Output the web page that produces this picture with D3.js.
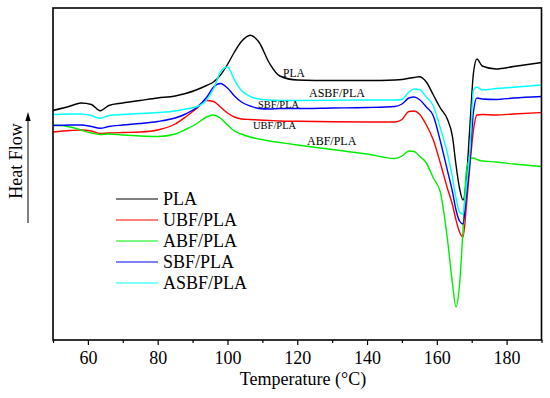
<!DOCTYPE html>
<html>
<head>
<meta charset="utf-8">
<script src="https://cdn.jsdelivr.net/npm/d3@7"></script>
<style>
  body { margin: 0; background: #fff; }
  svg { font-family: "Liberation Serif", "Times New Roman", serif; }
</style>
</head>
<body>
<div id="chart"></div>
<script>
// temperature grid (°C) shared by all curves
var temps = [50, 55, 58, 61, 63.5, 66, 70, 75, 80, 85, 88, 91, 94, 96, 98, 100, 102, 104, 106.5, 109,
  112, 115, 120, 130, 140, 148, 150, 152, 153.5, 155, 157, 159, 161, 163, 164.5, 165.5, 166.5, 167.5, 168.5, 169.5,
  170.5, 171.5, 173, 177, 182, 190];

// heat flow, arbitrary units (endo down)
var pla = [22.95, 23.4, 23.7, 23.55, 22.93, 23.45, 23.7, 23.95, 24.2, 24.4, 24.65, 25.0, 25.45, 25.8, 26.5, 27.55, 28.8, 29.85, 30.48, 29.8,
  27.7, 26.4, 26.0, 25.95, 25.95, 26.0, 26.05, 26.17, 26.25, 26.33, 25.8, 24.5, 23.2, 22.1, 20.3, 17.5, 15.2, 14.0, 16.2, 21.5,
  26.7, 28.1, 27.4, 27.1, 27.35, 27.75];
var ubf = [20.8, 20.95, 21.0, 20.9, 20.65, 20.7, 20.75, 20.8, 21.0, 21.6, 22.3, 23.1, 23.95, 23.85, 23.3, 22.7, 22.3, 22.1, 22.05, 22.0,
  21.95, 21.9, 21.87, 21.82, 21.8, 21.8, 22.05, 22.85, 22.9, 22.6, 21.5, 20.0, 17.7, 15.2, 13.5, 12.0, 10.8, 10.3, 13.5, 17.5,
  21.0, 22.5, 22.55, 22.5, 22.6, 22.75];
var abf = [21.5, 21.3, 21.0, 20.7, 20.55, 20.6, 20.5, 20.4, 20.35, 20.6, 21.05, 21.6, 22.3, 22.5, 22.17, 21.5, 20.9, 20.6, 20.3, 20.1,
  19.9, 19.75, 19.5, 19.05, 18.6, 18.15, 18.4, 18.9, 18.85, 18.4, 17.7, 16.2, 14.8, 10.2, 5.6, 3.3, 5.5, 11.0, 17.0, 18.1,
  18.2, 18.05, 17.9, 17.8, 17.6, 17.35];
var sbf = [21.45, 21.5, 21.5, 21.35, 21.17, 21.35, 21.5, 21.65, 21.85, 22.2, 22.6, 23.2, 24.25, 25.3, 25.65, 25.2, 24.4, 23.8, 23.4, 23.15,
  23.1, 23.15, 23.15, 23.2, 23.25, 23.35, 23.6, 24.2, 24.3, 24.05, 23.3, 22.4, 19.9, 17.0, 14.8, 13.0, 11.9, 11.6, 14.5, 18.0,
  22.8, 24.2, 24.1, 24.05, 24.2, 24.35];
var asbf = [22.55, 22.6, 22.6, 22.45, 22.17, 22.45, 22.55, 22.65, 22.75, 22.9, 23.1, 23.3, 24.0, 25.1, 26.8, 27.3, 26.0, 24.95, 24.35, 24.1,
  24.0, 23.95, 23.95, 23.97, 24.0, 24.0, 24.05, 24.8, 25.1, 25.05, 24.3, 23.4, 21.2, 18.7, 16.2, 14.2, 12.8, 12.6, 15.5, 19.0,
  25.0, 25.3, 25.0, 25.15, 25.27, 25.5];

var names = ['PLA', 'UBF/PLA', 'ABF/PLA', 'SBF/PLA', 'ASBF/PLA'];
var colors = ['#000000', '#ff0000', '#00ee00', '#0000ff', '#00ffff'];
var xTicks = [60, 80, 100, 120, 140, 160, 180];
var xMinor = [50, 70, 90, 110, 130, 150, 170, 190];

var series = [pla, ubf, abf, sbf, asbf];

var width = 550, height = 398;
var margin = {top: 8, right: 8.5, bottom: 58, left: 53};

var svg = d3.select('#chart').append('svg')
    .attr('width', width)
    .attr('height', height);

var x = d3.scaleLinear().domain([50, 190]).range([margin.left, width - margin.right]);
var y = d3.scaleLinear().domain([0, 33.2]).range([height - margin.bottom, margin.top]);

var line = d3.line()
    .x(function(d) { return x(d[0]); })
    .y(function(d) { return y(d[1]); })
    .curve(d3.curveMonotoneX);

// draw curves (back to front so cyan sits on top like the original)
series.forEach(function(vals, i) {
  svg.append('path')
    .datum(temps.map(function(t, j) { return [t, vals[j]]; }))
    .attr('fill', 'none')
    .attr('stroke', colors[i])
    .attr('stroke-width', 1.4)
    .attr('d', line);
});

// axes
var bottom = height - margin.bottom;
svg.append('g')
    .attr('transform', 'translate(0,' + bottom + ')')
    .call(d3.axisBottom(x).tickValues(xMinor).tickSize(3).tickFormat(''))
    .call(function(g) { g.select('.domain').remove(); g.selectAll('line').attr('stroke-width', 1.2); });

svg.append('g')
    .attr('transform', 'translate(0,' + bottom + ')')
    .call(d3.axisBottom(x).tickValues(xTicks).tickSize(5).tickPadding(6).tickFormat(d3.format('d')))
    .call(function(g) {
      g.select('.domain').remove();
      g.selectAll('line').attr('stroke-width', 1.2);
      g.selectAll('text').attr('font-size', 18).attr('font-family', '"Liberation Serif", serif').attr('fill', '#000');
    });

// frame
svg.append('rect')
    .attr('x', margin.left)
    .attr('y', margin.top)
    .attr('width', width - margin.right - margin.left)
    .attr('height', bottom - margin.top)
    .attr('fill', 'none')
    .attr('stroke', '#000')
    .attr('stroke-width', 1.6);

svg.append('text')
    .attr('x', 303)
    .attr('y', 385)
    .attr('text-anchor', 'middle')
    .attr('font-size', 18)
    .text('Temperature (\u00B0C)');

// y label with arrow
svg.append('text')
    .attr('transform', 'translate(21.5,161) rotate(-90)')
    .attr('text-anchor', 'middle')
    .attr('font-size', 18)
    .text('Heat Flow');

svg.append('line')
    .attr('x1', 28).attr('x2', 28)
    .attr('y1', 223).attr('y2', 118)
    .attr('stroke', '#000')
    .attr('stroke-width', 1);
svg.append('path')
    .attr('d', 'M28,112L25.3,121L30.7,121Z')
    .attr('fill', '#000');

// labels on the curves
var tags = [
  {text: 'PLA', x: 283, y: 77, size: 11.5},
  {text: 'ASBF/PLA', x: 309, y: 97, size: 12},
  {text: 'SBF/PLA', x: 258, y: 108, size: 10.4},
  {text: 'UBF/PLA', x: 253, y: 128.5, size: 10.5},
  {text: 'ABF/PLA', x: 307, y: 145, size: 12}
];
svg.selectAll('.tag').data(tags).enter().append('text')
    .attr('class', 'tag')
    .attr('x', function(d) { return d.x; })
    .attr('y', function(d) { return d.y; })
    .attr('font-size', function(d) { return d.size; })
    .text(function(d) { return d.text; });

// legend
var legend = svg.append('g').attr('transform', 'translate(116,199)');
var rows = legend.selectAll('g').data(names).enter().append('g')
    .attr('transform', function(d, i) { return 'translate(0,' + (i * 21) + ')'; });
rows.append('line')
    .attr('x1', 0).attr('x2', 42)
    .attr('stroke', function(d, i) { return colors[i]; })
    .attr('stroke-width', 1.2);
rows.append('text')
    .attr('x', 47)
    .attr('y', 6)
    .attr('font-size', 18)
    .text(function(d) { return d; });
</script>
</body>
</html>
